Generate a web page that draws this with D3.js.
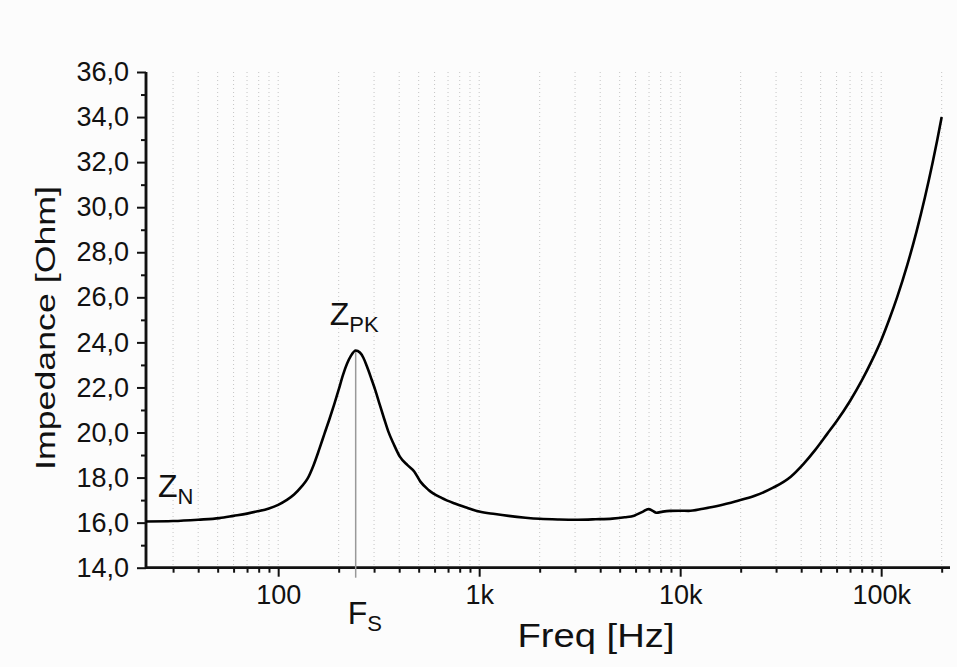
<!DOCTYPE html>
<html><head><meta charset="utf-8">
<script src="https://cdn.jsdelivr.net/npm/d3@7"></script>
<style>
body{margin:0;background:#fcfcfc}
svg text{font-family:"Liberation Sans",Arial,Helvetica,sans-serif;fill:#111}
</style>
</head><body><svg id="chart" width="957" height="667"></svg>
<script>
// Loudspeaker impedance sweep: frequency (Hz) and impedance magnitude (Ohm)
const freqHz = [22,30,40,51,60,70,78,90,100,110,120,130,140,150,160,170,180,190,200,210,220,230,243,255,265,276,292,305,321,337,353,375,403,440,475,510,560,650,750,870,1000,1200,1400,1700,2000,2500,3100,3800,4600,5300,5900,6500,6960,7300,7600,8200,8900,10000,11000,13000,15700,19000,23500,29000,35500,41000,47000,54000,60000,70000,80000,90000,100000,110000,120000,135000,150000,165000,180000,190000,200000];
const impedanceOhm = [16.05,16.07,16.13,16.2,16.3,16.4,16.49,16.63,16.79,17.0,17.25,17.58,17.95,18.55,19.25,19.95,20.6,21.25,21.9,22.55,23.05,23.4,23.64,23.55,23.33,22.95,22.34,21.85,21.2,20.6,20.05,19.5,18.93,18.55,18.27,17.82,17.45,17.1,16.86,16.66,16.49,16.38,16.3,16.22,16.17,16.14,16.13,16.15,16.18,16.24,16.31,16.48,16.6,16.52,16.44,16.49,16.52,16.53,16.52,16.62,16.76,16.95,17.19,17.55,18.04,18.6,19.23,19.95,20.5,21.4,22.3,23.2,24.1,25.05,26.0,27.45,28.93,30.43,31.95,32.97,34.0];

// Axis ticks
const xMajorTicks = [100,1000,10000,100000];
const xMajorLabels = ["100","1k","10k","100k"];
const xMinorTicks = [30,40,50,60,70,80,90,200,300,400,500,600,700,800,900,2000,3000,4000,5000,6000,7000,8000,9000,20000,30000,40000,50000,60000,70000,80000,90000,200000];
const yMajorTicks = [14,16,18,20,22,24,26,28,30,32,34,36];
const yMinorTicks = [15,17,19,21,23,25,27,29,31,33,35];

// Resonance markers
const resonanceHz = 243;
const resonanceOhm = 23.64;

const W = 957, H = 667;
const plot = {left:146, right:950, top:72, bottom:567.7};

const svg = d3.select("#chart");
svg.append("rect").attr("width",W).attr("height",H).attr("fill","#fcfcfc");

const x = d3.scaleLog().domain([22,220000]).range([plot.left, plot.right]);
const y = d3.scaleLinear().domain([14,36]).range([plot.bottom, plot.top]);

// dotted vertical grid at every decade step
const gridG = svg.append("g");
gridG.selectAll("line").data(xMajorTicks.concat(xMinorTicks)).join("line")
  .attr("x1", d=>x(d)).attr("x2", d=>x(d))
  .attr("y1", plot.top).attr("y2", plot.bottom)
  .attr("stroke","#c4c4c4").attr("stroke-width",1).attr("stroke-dasharray","1,3");

// bottom axis
const xAxis = svg.append("g").attr("transform",`translate(0,${plot.bottom})`);
xAxis.call(d3.axisBottom(x).tickValues(xMajorTicks).tickFormat((d,i)=>xMajorLabels[i]).tickSize(9).tickPadding(8));
xAxis.append("g").call(d3.axisBottom(x).tickValues(xMinorTicks).tickFormat("").tickSize(5));
xAxis.selectAll(".domain").attr("stroke","#111").attr("stroke-width",2.5).attr("d",`M${plot.left},0H${plot.right}`);
xAxis.selectAll(".tick line").attr("stroke","#111").attr("stroke-width",2);
xAxis.selectAll(".tick text").style("font-size","27px").attr("fill","#111").attr("font-family",null);

// left axis
const fmt = d => d3.format(".1f")(d).replace(".",",");
const yAxis = svg.append("g").attr("transform",`translate(${plot.left},0)`);
yAxis.call(d3.axisLeft(y).tickValues(yMajorTicks).tickFormat(fmt).tickSize(9).tickPadding(8));
yAxis.append("g").call(d3.axisLeft(y).tickValues(yMinorTicks).tickFormat("").tickSize(5));
yAxis.selectAll(".domain").attr("stroke","#111").attr("stroke-width",2.5).attr("d",`M0,${plot.bottom}V${plot.top}`);
yAxis.selectAll(".tick line").attr("stroke","#111").attr("stroke-width",2);
yAxis.selectAll(".tick text").style("font-size","27px").attr("fill","#111").attr("font-family",null);

// Fs marker line
svg.append("line")
  .attr("x1", x(resonanceHz)).attr("x2", x(resonanceHz))
  .attr("y1", y(resonanceOhm)).attr("y2", plot.bottom + 10)
  .attr("stroke","#999").attr("stroke-width",1.5);

// impedance curve
const pts = freqHz.map((f,i)=>[f, impedanceOhm[i]]);
svg.append("path").datum(pts)
  .attr("fill","none").attr("stroke","#000").attr("stroke-width",2.6)
  .attr("stroke-linejoin","round")
  .attr("d", d3.line().x(d=>x(d[0])).y(d=>y(d[1])).curve(d3.curveMonotoneX));

// axis titles
svg.append("text").attr("x", 596).attr("y", 647).attr("text-anchor","middle")
  .attr("textLength",157).attr("lengthAdjust","spacingAndGlyphs")
  .style("font-size","33px").text("Freq [Hz]");
svg.append("text").attr("transform","translate(55,328) rotate(-90)").attr("text-anchor","middle")
  .attr("textLength",284).attr("lengthAdjust","spacingAndGlyphs")
  .style("font-size","28px").text("Impedance [Ohm]");

// annotations with subscripts
function subLabel(px, py, main, sub){
  const t = svg.append("text").attr("x",px).attr("y",py).style("font-size","32px");
  t.append("tspan").text(main);
  t.append("tspan").attr("dy",7).style("font-size","22px").text(sub);
}
subLabel(158, 497, "Z", "N");
subLabel(x(resonanceHz) - 26, 325, "Z", "PK");
subLabel(x(resonanceHz) - 8, 624, "F", "S");
</script>
</body></html>
